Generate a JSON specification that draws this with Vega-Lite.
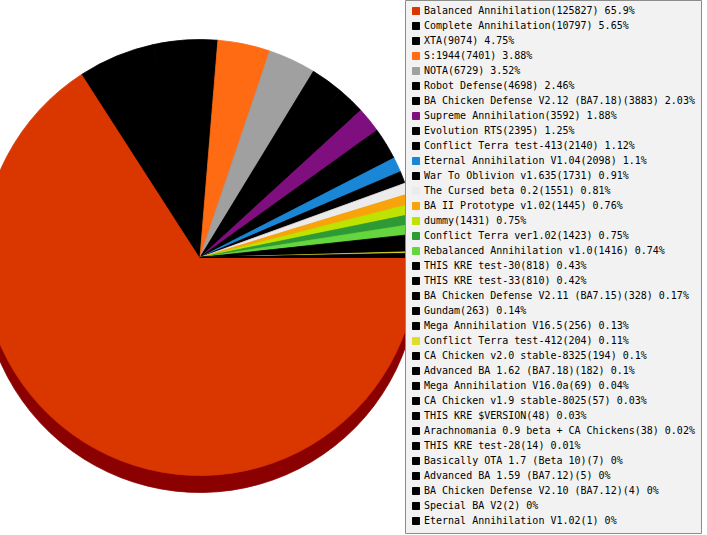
{
  "$schema": "https://vega.github.io/schema/vega-lite/v6.json",
  "width": 400,
  "height": 515,
  "autosize": {"type": "none"},
  "padding": {"left": 0, "top": 0, "right": 307, "bottom": 20},
  "background": "white",
  "config": {
    "view": {"stroke": null},
    "font": "DejaVu Sans Mono"
  },
  "data": {
    "values": [
      {"rank": 0, "label": "Balanced Annihilation(125827) 65.9%", "games": 125827},
      {"rank": 1, "label": "Complete Annihilation(10797) 5.65%", "games": 10797},
      {"rank": 2, "label": "XTA(9074) 4.75%", "games": 9074},
      {"rank": 3, "label": "S:1944(7401) 3.88%", "games": 7401},
      {"rank": 4, "label": "NOTA(6729) 3.52%", "games": 6729},
      {"rank": 5, "label": "Robot Defense(4698) 2.46%", "games": 4698},
      {"rank": 6, "label": "BA Chicken Defense V2.12 (BA7.18)(3883) 2.03%", "games": 3883},
      {"rank": 7, "label": "Supreme Annihilation(3592) 1.88%", "games": 3592},
      {"rank": 8, "label": "Evolution RTS(2395) 1.25%", "games": 2395},
      {"rank": 9, "label": "Conflict Terra test-413(2140) 1.12%", "games": 2140},
      {"rank": 10, "label": "Eternal Annihilation V1.04(2098) 1.1%", "games": 2098},
      {"rank": 11, "label": "War To Oblivion v1.635(1731) 0.91%", "games": 1731},
      {"rank": 12, "label": "The Cursed beta 0.2(1551) 0.81%", "games": 1551},
      {"rank": 13, "label": "BA II Prototype v1.02(1445) 0.76%", "games": 1445},
      {"rank": 14, "label": "dummy(1431) 0.75%", "games": 1431},
      {"rank": 15, "label": "Conflict Terra ver1.02(1423) 0.75%", "games": 1423},
      {"rank": 16, "label": "Rebalanced Annihilation v1.0(1416) 0.74%", "games": 1416},
      {"rank": 17, "label": "THIS KRE test-30(818) 0.43%", "games": 818},
      {"rank": 18, "label": "THIS KRE test-33(810) 0.42%", "games": 810},
      {"rank": 19, "label": "BA Chicken Defense V2.11 (BA7.15)(328) 0.17%", "games": 328},
      {"rank": 20, "label": "Gundam(263) 0.14%", "games": 263},
      {"rank": 21, "label": "Mega Annihilation V16.5(256) 0.13%", "games": 256},
      {"rank": 22, "label": "Conflict Terra test-412(204) 0.11%", "games": 204},
      {"rank": 23, "label": "CA Chicken v2.0 stable-8325(194) 0.1%", "games": 194},
      {"rank": 24, "label": "Advanced BA 1.62 (BA7.18)(182) 0.1%", "games": 182},
      {"rank": 25, "label": "Mega Annihilation V16.0a(69) 0.04%", "games": 69},
      {"rank": 26, "label": "CA Chicken v1.9 stable-8025(57) 0.03%", "games": 57},
      {"rank": 27, "label": "THIS KRE $VERSION(48) 0.03%", "games": 48},
      {"rank": 28, "label": "Arachnomania 0.9 beta + CA Chickens(38) 0.02%", "games": 38},
      {"rank": 29, "label": "THIS KRE test-28(14) 0.01%", "games": 14},
      {"rank": 30, "label": "Basically OTA 1.7 (Beta 10)(7) 0%", "games": 7},
      {"rank": 31, "label": "Advanced BA 1.59 (BA7.12)(5) 0%", "games": 5},
      {"rank": 32, "label": "BA Chicken Defense V2.10 (BA7.12)(4) 0%", "games": 4},
      {"rank": 33, "label": "Special BA V2(2) 0%", "games": 2},
      {"rank": 34, "label": "Eternal Annihilation V1.02(1) 0%", "games": 1}
    ]
  },
  "encoding": {
    "theta": {
      "field": "games",
      "type": "quantitative",
      "stack": true,
      "scale": {"range": [1.5708, 7.854]}
    },
    "order": {"field": "rank", "type": "quantitative"}
  },
  "layer": [
    {
      "mark": {"type": "arc", "outerRadius": 218, "yOffset": 17, "color": "#8b0000", "stroke": "#8b0000", "strokeWidth": 0.8}
    },
    {
      "mark": {"type": "arc", "outerRadius": 218, "strokeWidth": 0.8},
      "encoding": {
        "color": {
          "field": "label",
          "type": "nominal",
          "scale": {
            "domain": [
              "Balanced Annihilation(125827) 65.9%",
              "Complete Annihilation(10797) 5.65%",
              "XTA(9074) 4.75%",
              "S:1944(7401) 3.88%",
              "NOTA(6729) 3.52%",
              "Robot Defense(4698) 2.46%",
              "BA Chicken Defense V2.12 (BA7.18)(3883) 2.03%",
              "Supreme Annihilation(3592) 1.88%",
              "Evolution RTS(2395) 1.25%",
              "Conflict Terra test-413(2140) 1.12%",
              "Eternal Annihilation V1.04(2098) 1.1%",
              "War To Oblivion v1.635(1731) 0.91%",
              "The Cursed beta 0.2(1551) 0.81%",
              "BA II Prototype v1.02(1445) 0.76%",
              "dummy(1431) 0.75%",
              "Conflict Terra ver1.02(1423) 0.75%",
              "Rebalanced Annihilation v1.0(1416) 0.74%",
              "THIS KRE test-30(818) 0.43%",
              "THIS KRE test-33(810) 0.42%",
              "BA Chicken Defense V2.11 (BA7.15)(328) 0.17%",
              "Gundam(263) 0.14%",
              "Mega Annihilation V16.5(256) 0.13%",
              "Conflict Terra test-412(204) 0.11%",
              "CA Chicken v2.0 stable-8325(194) 0.1%",
              "Advanced BA 1.62 (BA7.18)(182) 0.1%",
              "Mega Annihilation V16.0a(69) 0.04%",
              "CA Chicken v1.9 stable-8025(57) 0.03%",
              "THIS KRE $VERSION(48) 0.03%",
              "Arachnomania 0.9 beta + CA Chickens(38) 0.02%",
              "THIS KRE test-28(14) 0.01%",
              "Basically OTA 1.7 (Beta 10)(7) 0%",
              "Advanced BA 1.59 (BA7.12)(5) 0%",
              "BA Chicken Defense V2.10 (BA7.12)(4) 0%",
              "Special BA V2(2) 0%",
              "Eternal Annihilation V1.02(1) 0%"
            ],
            "range": [
              "#d93600", "#000000", "#000000", "#ff6b12", "#a0a0a0",
              "#000000", "#000000", "#7f0f7e", "#000000", "#000000",
              "#1a86d6", "#000000", "#ebebeb", "#f9a30b", "#bfe300",
              "#2e9a35", "#65d63d", "#000000", "#000000", "#000000",
              "#000000", "#000000", "#e0dc2c", "#000000", "#000000",
              "#000000", "#000000", "#000000", "#000000", "#000000",
              "#000000", "#000000", "#000000", "#000000", "#000000"
            ]
          },
          "legend": {
            "title": null,
            "orient": "right",
            "offset": 5,
            "padding": 6,
            "fillColor": "#f2f2f2",
            "strokeColor": "#8c8c8c",
            "symbolType": "square",
            "symbolSize": 49,
            "symbolStrokeColor": "#8c8c8c",
            "symbolStrokeWidth": 1,
            "symbolOpacity": 1,
            "labelFont": "DejaVu Sans Mono",
            "labelFontSize": 10,
            "labelColor": "#000000",
            "labelOffset": 3,
            "labelLimit": 400,
            "rowPadding": 3,
            "symbolLimit": 0
          }
        },
        "stroke": {
          "field": "label",
          "type": "nominal",
          "legend": null,
          "scale": {
            "domain": [
              "Balanced Annihilation(125827) 65.9%",
              "Complete Annihilation(10797) 5.65%",
              "XTA(9074) 4.75%",
              "S:1944(7401) 3.88%",
              "NOTA(6729) 3.52%",
              "Robot Defense(4698) 2.46%",
              "BA Chicken Defense V2.12 (BA7.18)(3883) 2.03%",
              "Supreme Annihilation(3592) 1.88%",
              "Evolution RTS(2395) 1.25%",
              "Conflict Terra test-413(2140) 1.12%",
              "Eternal Annihilation V1.04(2098) 1.1%",
              "War To Oblivion v1.635(1731) 0.91%",
              "The Cursed beta 0.2(1551) 0.81%",
              "BA II Prototype v1.02(1445) 0.76%",
              "dummy(1431) 0.75%",
              "Conflict Terra ver1.02(1423) 0.75%",
              "Rebalanced Annihilation v1.0(1416) 0.74%",
              "THIS KRE test-30(818) 0.43%",
              "THIS KRE test-33(810) 0.42%",
              "BA Chicken Defense V2.11 (BA7.15)(328) 0.17%",
              "Gundam(263) 0.14%",
              "Mega Annihilation V16.5(256) 0.13%",
              "Conflict Terra test-412(204) 0.11%",
              "CA Chicken v2.0 stable-8325(194) 0.1%",
              "Advanced BA 1.62 (BA7.18)(182) 0.1%",
              "Mega Annihilation V16.0a(69) 0.04%",
              "CA Chicken v1.9 stable-8025(57) 0.03%",
              "THIS KRE $VERSION(48) 0.03%",
              "Arachnomania 0.9 beta + CA Chickens(38) 0.02%",
              "THIS KRE test-28(14) 0.01%",
              "Basically OTA 1.7 (Beta 10)(7) 0%",
              "Advanced BA 1.59 (BA7.12)(5) 0%",
              "BA Chicken Defense V2.10 (BA7.12)(4) 0%",
              "Special BA V2(2) 0%",
              "Eternal Annihilation V1.02(1) 0%"
            ],
            "range": [
              "#d93600", "#000000", "#000000", "#ff6b12", "#a0a0a0",
              "#000000", "#000000", "#7f0f7e", "#000000", "#000000",
              "#1a86d6", "#000000", "#ebebeb", "#f9a30b", "#bfe300",
              "#2e9a35", "#65d63d", "#000000", "#000000", "#000000",
              "#000000", "#000000", "#e0dc2c", "#000000", "#000000",
              "#000000", "#000000", "#000000", "#000000", "#000000",
              "#000000", "#000000", "#000000", "#000000", "#000000"
            ]
          }
        }
      }
    }
  ]
}
